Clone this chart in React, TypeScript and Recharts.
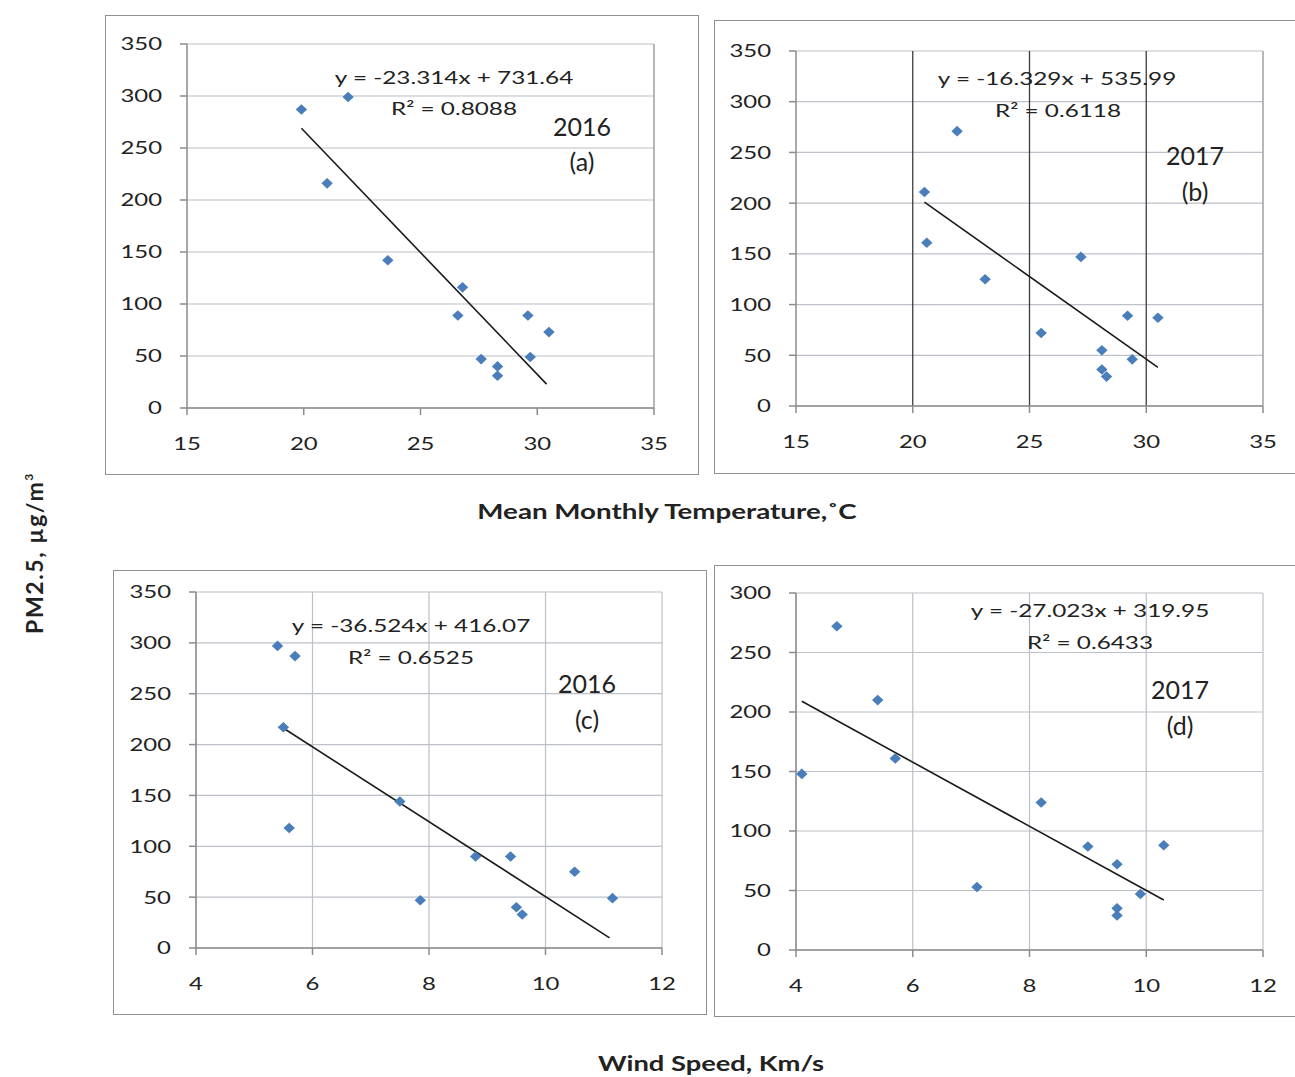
import React from "react";
import { ScatterChart, Scatter, XAxis, YAxis, CartesianGrid, ReferenceLine } from "recharts";

// axis ticks
const tempTicks = [15, 20, 25, 30, 35];
const windTicks = [4, 6, 8, 10, 12];
const pmTicks350 = [0, 50, 100, 150, 200, 250, 300, 350];
const pmTicks300 = [0, 50, 100, 150, 200, 250, 300];

// (a) 2016 temperature vs PM2.5
const temp2016 = [19.9, 21.9, 21.0, 23.6, 26.8, 26.6, 27.6, 28.3, 28.3, 29.6, 29.7, 30.5];
const pmTemp2016 = [287, 299, 216, 142, 116, 89, 47, 40, 31, 89, 49, 73];
const trendTemp2016 = [[19.9, 269], [30.4, 23]];

// (b) 2017 temperature vs PM2.5
const temp2017 = [20.5, 20.6, 21.9, 23.1, 25.5, 27.2, 28.1, 28.1, 28.3, 29.2, 29.4, 30.5];
const pmTemp2017 = [211, 161, 271, 125, 72, 147, 55, 36, 29, 89, 46, 87];
const trendTemp2017 = [[20.5, 201], [30.5, 38]];

// (c) 2016 wind speed vs PM2.5
const wind2016 = [5.4, 5.7, 5.5, 5.6, 7.5, 7.85, 8.8, 9.4, 9.5, 9.6, 10.5, 11.15];
const pmWind2016 = [297, 287, 217, 118, 144, 47, 90, 90, 40, 33, 75, 49];
const trendWind2016 = [[5.45, 218], [11.1, 10]];

// (d) 2017 wind speed vs PM2.5
const wind2017 = [4.1, 4.7, 5.4, 5.7, 7.1, 8.2, 9.0, 9.5, 9.5, 9.5, 9.9, 10.3];
const pmWind2017 = [148, 272, 210, 161, 53, 124, 87, 72, 35, 29, 47, 88];
const trendWind2017 = [[4.1, 209], [10.3, 42]];

// text on the panels
const equations = ["y = -23.314x + 731.64", "y = -16.329x + 535.99", "y = -36.524x + 416.07", "y = -27.023x + 319.95"];
const rSquared = ["R² = 0.8088", "R² = 0.6118", "R² = 0.6525", "R² = 0.6433"];
const years = ["2016", "2017", "2016", "2017"];
const panelTags = ["(a)", "(b)", "(c)", "(d)"];

const FONT = "Lato, 'Open Sans', sans-serif";
const TEXT = "#222222";
const SX = 1.33;
const AXIS = "#8c8c8c";
const GRID = "#bcc0c8";

const toPoints = (xs: number[], ys: number[]) => xs.map((x, i) => ({ x, y: ys[i] }));

const Diamond = (props: any) => {
  const { cx, cy } = props;
  if (cx == null || cy == null) return null;
  return (
    <polygon
      points={`${cx},${cy - 5.3} ${cx + 5.7},${cy} ${cx},${cy + 5.3} ${cx - 5.7},${cy}`}
      fill="#4a7ebb"
    />
  );
};

const YTick = ({ x, y, payload }: any) => (
  <g transform={`translate(${x},${y})`}>
    <text textAnchor="end" dy="0.36em" fontSize={18} fontFamily={FONT} fill={TEXT} transform={`scale(${SX},1)`}>
      {payload.value}
    </text>
  </g>
);

const XTick = ({ x, y, payload }: any) => (
  <g transform={`translate(${x},${y})`}>
    <text textAnchor="middle" dy="0.71em" fontSize={18} fontFamily={FONT} fill={TEXT} transform={`scale(${SX},1)`}>
      {payload.value}
    </text>
  </g>
);

const Note = ({ x, y, size, scale = 1, bold = false, children }: any) => (
  <div
    style={{
      position: "absolute",
      left: x,
      top: y,
      transform: `translate(-50%, -50%) scaleX(${scale})`,
      fontSize: size,
      fontFamily: FONT,
      fontWeight: bold ? 700 : 400,
      color: TEXT,
      whiteSpace: "nowrap",
      lineHeight: 1,
    }}
  >
    {children}
  </div>
);

function Panel({ box, margin, xTicks, yTicks, points, trend, grid }: any) {
  const [left, top, width, height] = box;
  return (
    <>
      <div
        style={{
          position: "absolute",
          left,
          top,
          width,
          height,
          boxSizing: "border-box",
          border: "1.5px solid #909090",
        }}
      />
      <div style={{ position: "absolute", left, top }}>
        <ScatterChart width={width} height={height} margin={margin}>
          <CartesianGrid stroke={GRID} strokeWidth={1.2} vertical={grid === "both"} />
          <XAxis
            type="number"
            dataKey="x"
            domain={[xTicks[0], xTicks[xTicks.length - 1]]}
            ticks={xTicks}
            height={40}
            tickSize={7}
            tickMargin={22}
            axisLine={{ stroke: AXIS, strokeWidth: 1.5 }}
            tickLine={{ stroke: AXIS, strokeWidth: 1.5 }}
            tick={XTick}
          />
          <YAxis
            type="number"
            dataKey="y"
            domain={[yTicks[0], yTicks[yTicks.length - 1]]}
            ticks={yTicks}
            width={60}
            tickSize={7}
            tickMargin={18}
            axisLine={{ stroke: AXIS, strokeWidth: 1.5 }}
            tickLine={{ stroke: AXIS, strokeWidth: 1.5 }}
            tick={YTick}
          />
          {grid === "horizontal" && (
            <ReferenceLine x={xTicks[xTicks.length - 1]} stroke="#a0a0a0" strokeWidth={1.5} />
          )}
          {grid === "dark" &&
            xTicks.slice(1, -1).map((t: number) => (
              <ReferenceLine key={t} x={t} stroke="#3c3c3c" strokeWidth={1.3} />
            ))}
          {grid === "dark" && (
            <ReferenceLine x={xTicks[xTicks.length - 1]} stroke="#a0a0a0" strokeWidth={1.5} />
          )}
          <ReferenceLine
            segment={[
              { x: trend[0][0], y: trend[0][1] },
              { x: trend[1][0], y: trend[1][1] },
            ]}
            stroke="#1a1a1a"
            strokeWidth={1.6}
          />
          <Scatter data={points} shape={Diamond} isAnimationActive={false} />
        </ScatterChart>
      </div>
    </>
  );
}

export default function App() {
  return (
    <div
      style={{
        position: "absolute",
        left: 0,
        top: 0,
        width: 1295,
        height: 1077,
        background: "#ffffff",
        overflow: "hidden",
      }}
    >
      <Panel
        box={[105, 15, 594, 460]}
        margin={{ top: 29, right: 45, bottom: 27, left: 22 }}
        xTicks={tempTicks}
        yTicks={pmTicks350}
        points={toPoints(temp2016, pmTemp2016)}
        trend={trendTemp2016}
        grid="horizontal"
      />
      <Panel
        box={[714, 20, 583, 454]}
        margin={{ top: 31, right: 34, bottom: 28, left: 22 }}
        xTicks={tempTicks}
        yTicks={pmTicks350}
        points={toPoints(temp2017, pmTemp2017)}
        trend={trendTemp2017}
        grid="dark"
      />
      <Panel
        box={[113, 570, 594, 445]}
        margin={{ top: 22, right: 45, bottom: 27, left: 23 }}
        xTicks={windTicks}
        yTicks={pmTicks350}
        points={toPoints(wind2016, pmWind2016)}
        trend={trendWind2016}
        grid="both"
      />
      <Panel
        box={[714, 565, 583, 452]}
        margin={{ top: 28, right: 34, bottom: 27, left: 22 }}
        xTicks={windTicks}
        yTicks={pmTicks300}
        points={toPoints(wind2017, pmWind2017)}
        trend={trendWind2017}
        grid="both"
      />

      <Note x={454} y={77} size={18} scale={1.35}>{equations[0]}</Note>
      <Note x={454} y={108} size={18} scale={1.35}>{rSquared[0]}</Note>
      <Note x={582} y={126} size={25}>{years[0]}</Note>
      <Note x={582} y={161} size={25}>{panelTags[0]}</Note>

      <Note x={1057} y={78} size={18} scale={1.35}>{equations[1]}</Note>
      <Note x={1058} y={110} size={18} scale={1.35}>{rSquared[1]}</Note>
      <Note x={1195} y={155} size={25}>{years[1]}</Note>
      <Note x={1195} y={191} size={25}>{panelTags[1]}</Note>

      <Note x={411} y={625} size={18} scale={1.35}>{equations[2]}</Note>
      <Note x={411} y={657} size={18} scale={1.35}>{rSquared[2]}</Note>
      <Note x={587} y={683} size={25}>{years[2]}</Note>
      <Note x={587} y={719} size={25}>{panelTags[2]}</Note>

      <Note x={1090} y={610} size={18} scale={1.35}>{equations[3]}</Note>
      <Note x={1090} y={642} size={18} scale={1.35}>{rSquared[3]}</Note>
      <Note x={1180} y={689} size={25}>{years[3]}</Note>
      <Note x={1180} y={725} size={25}>{panelTags[3]}</Note>

      <Note x={667} y={510} size={21} scale={1.32} bold>
        Mean Monthly Temperature,˚C
      </Note>
      <Note x={711} y={1062} size={21} scale={1.3} bold>
        Wind Speed, Km/s
      </Note>
      <div
        style={{
          position: "absolute",
          left: 34,
          top: 553,
          transform: "translate(-50%, -50%) rotate(-90deg)",
          fontSize: 23,
          letterSpacing: 1.6,
          fontFamily: FONT,
          fontWeight: 700,
          color: TEXT,
          whiteSpace: "nowrap",
          lineHeight: 1,
        }}
      >
        PM2.5, µg/m<span style={{ fontSize: 12, position: "relative", top: -10 }}>3</span>
      </div>
    </div>
  );
}
